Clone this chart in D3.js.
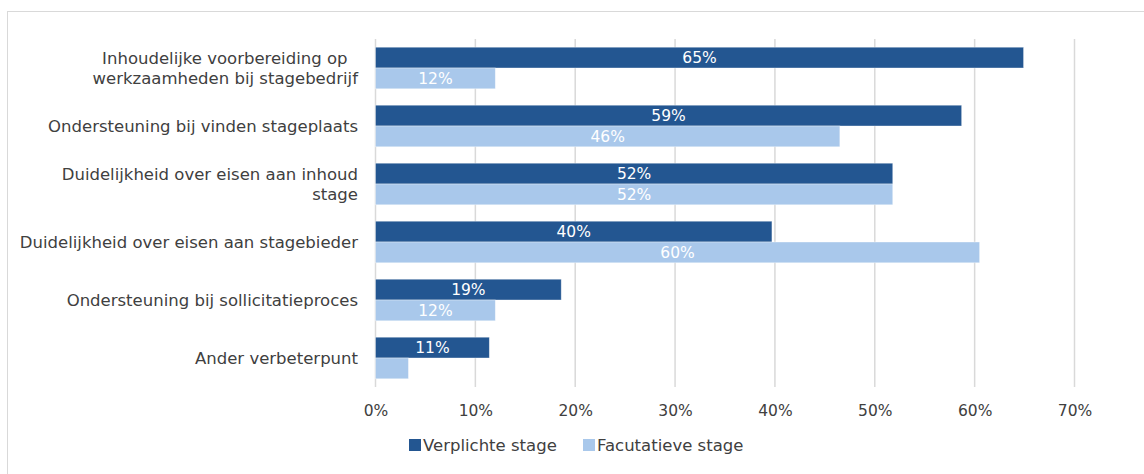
<!DOCTYPE html>
<html>
<head>
<meta charset="utf-8">
<script src="https://cdn.jsdelivr.net/npm/d3@7"></script>
<style>
  html, body { margin: 0; padding: 0; background: #fff; }
  svg { display: block; }
  text { font-family: 'DejaVu Sans', Verdana, sans-serif; }
</style>
</head>
<body>
<div id="chart"></div>
<script>
// Chart data
// (first label keeps its trailing spaces, as in the original)
const categories = [
  ['Inhoudelijke voorbereiding op  ', 'werkzaamheden bij stagebedrijf'],
  ['Ondersteuning bij vinden stageplaats'],
  ['Duidelijkheid over eisen aan inhoud', 'stage'],
  ['Duidelijkheid over eisen aan stagebieder'],
  ['Ondersteuning bij sollicitatieproces'],
  ['Ander verbeterpunt']
];
const seriesNames = ['Verplichte stage', 'Facutatieve stage'];
const verplicht = [64.9, 58.7, 51.8, 39.7, 18.6, 11.4];
const facultatief = [12.0, 46.5, 51.8, 60.5, 12.0, 3.3];
const verplichtLabels = ['65%', '59%', '52%', '40%', '19%', '11%'];
const facultatiefLabels = ['12%', '46%', '52%', '60%', '12%', ''];
const xTicks = [0, 10, 20, 30, 40, 50, 60, 70];

const w = 1144;
const h = 474;
const colors = ['#235691', '#a9c8eb'];
const textColor = '#404040';

const svg = d3.select('#chart')
  .append('svg')
  .attr('width', w)
  .attr('height', h);

// Outer frame (only left and top edges are visible in the picture)
svg.append('rect')
  .attr('x', 7.5)
  .attr('y', 11.5)
  .attr('width', w + 20)
  .attr('height', h + 20)
  .attr('fill', 'none')
  .attr('stroke', '#d9d9d9')
  .attr('stroke-width', 1);

const xscale = d3.scaleLinear().domain([0, 70]).range([375.5, 1074.5]);
const yscale = d3.scaleBand()
  .domain(d3.range(categories.length))
  .range([39, 387])
  .paddingInner(0.283)
  .paddingOuter(0.1415);
const sub = d3.scaleBand()
  .domain([0, 1])
  .range([0, yscale.bandwidth()]);

// Vertical gridlines
svg.append('g')
  .selectAll('line')
  .data(xTicks)
  .enter()
  .append('line')
  .attr('x1', (d) => xscale(d))
  .attr('x2', (d) => xscale(d))
  .attr('y1', 39)
  .attr('y2', 387)
  .attr('stroke', '#d9d9d9')
  .attr('stroke-width', 1.5);

// x axis labels
const xAxis = d3.axisBottom(xscale)
  .tickValues(xTicks)
  .tickSize(0)
  .tickPadding(0)
  .tickFormat((d) => d + '%');
const xg = svg.append('g')
  .attr('transform', 'translate(0, 416)')
  .call(xAxis);
xg.select('.domain').remove();
xg.selectAll('text')
  .attr('dy', 0)
  .attr('fill', textColor)
  .style('font-size', '15.5px');

// Category labels
const catG = svg.append('g')
  .selectAll('text')
  .data(categories)
  .enter()
  .append('text')
  .attr('text-anchor', 'end')
  .attr('fill', textColor)
  .style('font-size', '16.5px')
  .style('white-space', 'pre')
  .attr('transform', (d, i) => 'translate(358,' + (yscale(i) + yscale.bandwidth() / 2) + ')');
catG.selectAll('tspan')
  .data((d) => d.map((line, j) => ({ line, j, n: d.length })))
  .enter()
  .append('tspan')
  .attr('x', 0)
  .attr('y', (d) => (d.j - (d.n - 1) / 2) * 20)
  .attr('dy', '0.35em')
  .text((d) => d.line);

// Bars
const rows = categories.map((c, i) => [
  { s: 0, v: verplicht[i], label: verplichtLabels[i] },
  { s: 1, v: facultatief[i], label: facultatiefLabels[i] }
]);
const rowG = svg.append('g')
  .selectAll('g')
  .data(rows)
  .enter()
  .append('g')
  .attr('transform', (d, i) => 'translate(0,' + yscale(i) + ')');

rowG.selectAll('rect')
  .data((d) => d)
  .enter()
  .append('rect')
  .attr('x', xscale(0))
  .attr('y', (d) => sub(d.s))
  .attr('width', (d) => xscale(d.v) - xscale(0))
  .attr('height', sub.bandwidth())
  .attr('fill', (d) => colors[d.s])
  .attr('stroke', '#ffffff')
  .attr('stroke-opacity', 0.5)
  .attr('stroke-width', 0.75);

rowG.selectAll('text')
  .data((d) => d)
  .enter()
  .append('text')
  .attr('x', (d) => (xscale(0) + xscale(d.v)) / 2)
  .attr('y', (d) => sub(d.s) + sub.bandwidth() / 2)
  .attr('dy', '0.35em')
  .attr('text-anchor', 'middle')
  .attr('fill', '#ffffff')
  .style('font-size', '15.5px')
  .text((d) => d.label);

// Legend
const legend = svg.append('g')
  .selectAll('g')
  .data(seriesNames)
  .enter()
  .append('g')
  .attr('transform', (d, i) => 'translate(' + [409, 583][i] + ',445)');
legend.append('rect')
  .attr('x', 0)
  .attr('y', -6)
  .attr('width', 12)
  .attr('height', 12)
  .attr('fill', (d, i) => colors[i]);
legend.append('text')
  .attr('x', 14)
  .attr('y', 0)
  .attr('dy', '0.35em')
  .attr('fill', textColor)
  .style('font-size', '16.5px')
  .text((d) => d);
</script>
</body>
</html>
